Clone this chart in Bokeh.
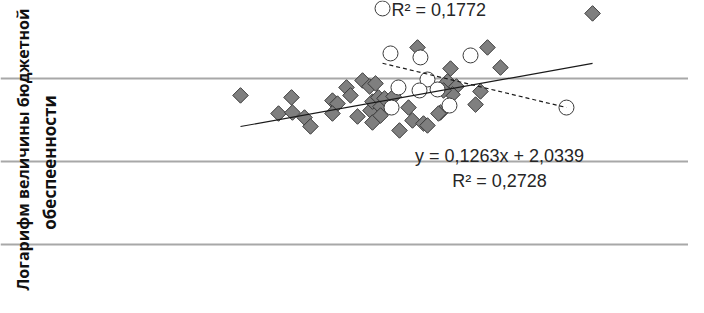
import numpy as np
from bokeh.plotting import figure
from bokeh.models import Range1d, Grid, FixedTicker, Label, ColumnDataSource
from bokeh.embed import file_html
from bokeh.resources import INLINE

# ---- data ----
group1_x = [1.400, 1.836, 1.725, 1.844, 1.947, 1.998, 2.186, 2.229, 2.186, 2.306,
            2.340, 2.443, 2.503, 2.554, 2.400, 2.511, 2.528, 2.579, 2.597, 2.528,
            2.597, 2.631, 2.759, 2.836, 2.870, 2.964, 2.998, 2.913, 3.109, 3.195,
            3.169, 3.246, 3.212, 3.135, 3.511, 3.622, 3.451, 3.409, 4.409, 2.708,
            3.092]
group1_y = [2.398, 2.386, 2.289, 2.295, 2.265, 2.211, 2.367, 2.349, 2.289, 2.446,
            2.398, 2.488, 2.452, 2.470, 2.271, 2.307, 2.361, 2.386, 2.331, 2.235,
            2.277, 2.380, 2.187, 2.325, 2.247, 2.229, 2.217, 2.687, 2.295, 2.560,
            2.482, 2.452, 2.404, 2.428, 2.687, 2.566, 2.422, 2.343, 2.892, 2.392,
            2.289]

group2_x = [2.614, 2.682, 2.938, 2.998, 2.750, 2.930, 3.084, 2.691, 3.186, 3.366, 4.186]
group2_y = [2.922, 2.651, 2.627, 2.494, 2.446, 2.428, 2.434, 2.325, 2.337, 2.639, 2.325]

trend1_slope, trend1_intercept = 0.1263, 2.0339
trend2_slope, trend2_intercept = -0.1695, 3.0348

grid_ticks = [1.0, 1.5, 2.0, 2.5, 3.0]

eq1_text = "y = 0,1263x + 2,0339"
r2_1_text = "R\u00b2 = 0,2728"
r2_2_text = "R\u00b2 = 0,1772"
ylabel_line1 = "Логарифм величины бюджетной"
ylabel_line2 = "обеспеенности"

# ---- figure ----
p = figure(width=688, height=297, output_backend="svg", toolbar_location=None,
           x_range=Range1d(-0.6513, 5.229), y_range=Range1d(1.1807, 2.9699),
           x_axis_location=None, y_axis_location=None, min_border=0)
p.outline_line_color = None
p.background_fill_color = "white"
p.border_fill_color = "white"
for g in list(p.grid):
    g.visible = False

p.add_layout(Grid(dimension=1, ticker=FixedTicker(ticks=grid_ticks),
                  grid_line_color="#a8a8a8", grid_line_width=2))

src1 = ColumnDataSource(dict(x=group1_x, y=group1_y))
src2 = ColumnDataSource(dict(x=group2_x, y=group2_y))

p.scatter("x", "y", source=src1, marker="square", size=11, angle=np.pi / 4,
          fill_color="#7f7f7f", line_color="#3a3a3a", line_width=1)
p.scatter("x", "y", source=src2, marker="circle", size=15,
          fill_color="white", line_color="#3a3a3a", line_width=1)

t1x = np.array([min(group1_x), max(group1_x)])
p.line(t1x, trend1_slope * t1x + trend1_intercept, line_color="#1a1a1a", line_width=1.2)
t2x = np.array([min(group2_x), max(group2_x)])
p.line(t2x, trend2_slope * t2x + trend2_intercept, line_color="#1a1a1a",
       line_width=1.2, line_dash="4 3")

txt = dict(text_font="Liberation Sans", text_font_size="18px", text_color="#262626",
           x_units="screen", y_units="screen")
p.add_layout(Label(x=499, y=132, text=eq1_text, text_align="center", **txt))
p.add_layout(Label(x=499, y=107, text=r2_1_text, text_align="center", **txt))
p.add_layout(Label(x=391, y=278, text=r2_2_text, text_align="left", **txt))

yl = dict(text_font="Open Sans", text_font_style="bold",
          text_color="#111111", x_units="screen", y_units="screen",
          angle=np.pi / 2, text_align="center", text_baseline="alphabetic")
p.add_layout(Label(x=22, y=148, text=ylabel_line1, text_font_size="16px", **yl))
p.add_layout(Label(x=49, y=135, text=ylabel_line2, text_font_size="17px", **yl))

open("out.html", "w").write(file_html(p, INLINE))
